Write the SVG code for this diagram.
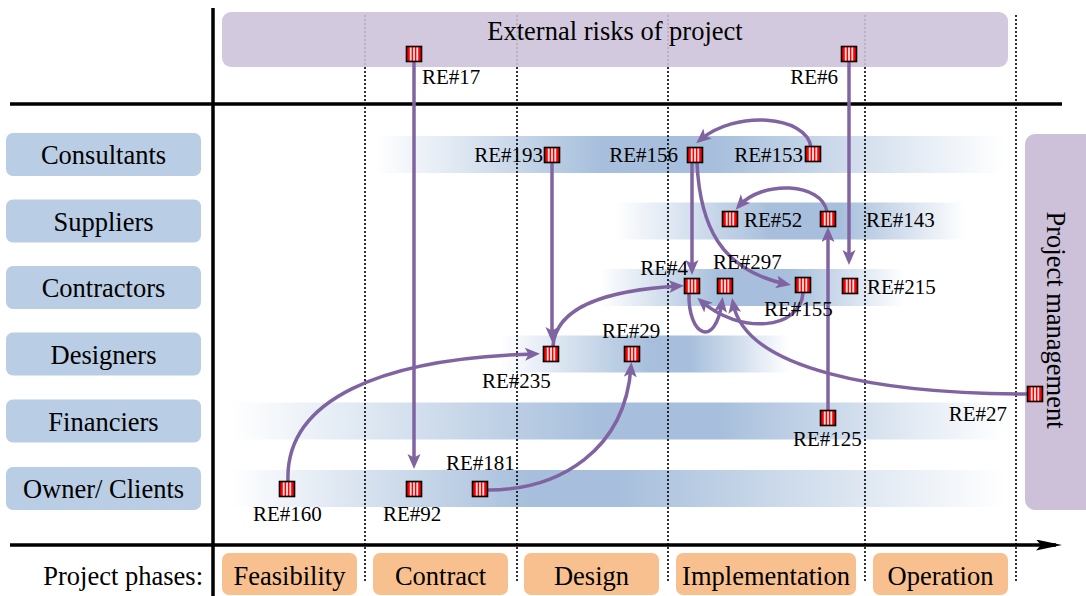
<svg xmlns="http://www.w3.org/2000/svg" width="1086" height="596" viewBox="0 0 1086 596" font-family="'Liberation Serif', 'DejaVu Serif', serif">
<style>
text{font-family:"Liberation Serif","DejaVu Serif",serif;fill:#000}
.big{font-size:26.5px}
.lbl{font-size:21px}
.mid{text-anchor:middle}
.end{text-anchor:end}
.axis{stroke:#000;stroke-width:3.5;fill:none}
.dot{stroke:#000;stroke-width:1.6;stroke-dasharray:2 2;fill:none}
.role{fill:#b9cde4}
.phase{fill:#f9c08f}
.conn{stroke:#8064a2;stroke-width:3.5;fill:none;marker-end:url(#ah)}
</style>
<defs>
<marker id="ah" markerUnits="userSpaceOnUse" markerWidth="17" markerHeight="14" refX="10" refY="6.5" orient="auto">
<path d="M0,0 L15,6.5 L0,13 L3.5,6.5 z" fill="#8064a2"/>
</marker>
<marker id="axh" markerUnits="userSpaceOnUse" markerWidth="28" markerHeight="12" refX="20" refY="5.5" orient="auto">
<path d="M0,0 L26,5.5 L0,11 L5,5.5 z" fill="#000"/>
</marker>
<g id="ic">
<rect x="-7.5" y="-7.5" width="15" height="15" fill="#f00" stroke="#000" stroke-width="1.6"/>
<rect x="-4.2" y="-6.5" width="1.8" height="13" fill="#fff" opacity="0.9"/>
<rect x="-0.9" y="-6.5" width="1.8" height="13" fill="#fff" opacity="0.9"/>
<rect x="2.4" y="-6.5" width="1.8" height="13" fill="#fff" opacity="0.9"/>
</g>
<linearGradient id="gC" gradientUnits="userSpaceOnUse" x1="375" y1="0" x2="1005" y2="0">
<stop offset="0" stop-color="#a7bfdc" stop-opacity="0"/><stop offset="0.357" stop-color="#a7bfdc"/><stop offset="0.54" stop-color="#a7bfdc"/><stop offset="1" stop-color="#a7bfdc" stop-opacity="0"/>
</linearGradient>
<linearGradient id="gS" gradientUnits="userSpaceOnUse" x1="615" y1="0" x2="965" y2="0">
<stop offset="0" stop-color="#a7bfdc" stop-opacity="0"/><stop offset="0.443" stop-color="#a7bfdc"/><stop offset="0.643" stop-color="#a7bfdc"/><stop offset="1" stop-color="#a7bfdc" stop-opacity="0"/>
</linearGradient>
<linearGradient id="gK" gradientUnits="userSpaceOnUse" x1="600" y1="0" x2="905" y2="0">
<stop offset="0" stop-color="#a7bfdc" stop-opacity="0"/><stop offset="0.393" stop-color="#a7bfdc"/><stop offset="0.623" stop-color="#a7bfdc"/><stop offset="1" stop-color="#a7bfdc" stop-opacity="0"/>
</linearGradient>
<linearGradient id="gD" gradientUnits="userSpaceOnUse" x1="500" y1="0" x2="790" y2="0">
<stop offset="0" stop-color="#a7bfdc" stop-opacity="0"/><stop offset="0.517" stop-color="#a7bfdc"/><stop offset="0.655" stop-color="#a7bfdc"/><stop offset="1" stop-color="#a7bfdc" stop-opacity="0"/>
</linearGradient>
<linearGradient id="gF" gradientUnits="userSpaceOnUse" x1="230" y1="0" x2="1005" y2="0">
<stop offset="0" stop-color="#a7bfdc" stop-opacity="0"/><stop offset="0.477" stop-color="#a7bfdc"/><stop offset="0.632" stop-color="#a7bfdc"/><stop offset="1" stop-color="#a7bfdc" stop-opacity="0"/>
</linearGradient>
<linearGradient id="gO" gradientUnits="userSpaceOnUse" x1="230" y1="0" x2="1005" y2="0">
<stop offset="0" stop-color="#a7bfdc" stop-opacity="0"/><stop offset="0.387" stop-color="#a7bfdc"/><stop offset="0.503" stop-color="#a7bfdc"/><stop offset="1" stop-color="#a7bfdc" stop-opacity="0"/>
</linearGradient>
</defs>

<g id="bands">
<rect x="375" y="136" width="630" height="37" fill="url(#gC)"/>
<rect x="615" y="202.5" width="350" height="37" fill="url(#gS)"/>
<rect x="600" y="269" width="305" height="37" fill="url(#gK)"/>
<rect x="500" y="335.5" width="290" height="37" fill="url(#gD)"/>
<rect x="230" y="402.5" width="775" height="37" fill="url(#gF)"/>
<rect x="230" y="470" width="775" height="37" fill="url(#gO)"/>
</g>

<g id="grid">
<line class="dot" x1="365" y1="15" x2="365" y2="582"/>
<line class="dot" x1="517" y1="15" x2="517" y2="582"/>
<line class="dot" x1="668" y1="15" x2="668" y2="582"/>
<line class="dot" x1="865" y1="15" x2="865" y2="582"/>
<line class="dot" x1="1016" y1="15" x2="1016" y2="582"/>
</g>

<g id="external-risks">
<rect x="222" y="12" width="786" height="55" rx="9" fill="#cdc1da" fill-opacity="0.88"/>
<text class="big mid" x="615" y="40">External risks of project</text>
</g>

<g id="project-management">
<rect x="1025" y="134" width="75" height="376" rx="10" fill="#cdc1da"/>
<text class="big mid" transform="translate(1055,320) rotate(90)" x="0" y="8.5">Project management</text>
</g>

<g id="axes">
<line class="axis" x1="213" y1="8" x2="213" y2="596"/>
<line class="axis" x1="10" y1="104" x2="1062" y2="104"/>
<line class="axis" x1="10" y1="545" x2="1056" y2="545" marker-end="url(#axh)"/>
</g>

<g id="role-consultants"><rect class="role" x="6" y="133" width="195" height="43" rx="7"/><text class="big mid" x="103.5" y="164">Consultants</text></g>
<g id="role-suppliers"><rect class="role" x="6" y="199.5" width="195" height="43" rx="7"/><text class="big mid" x="103.5" y="230.5">Suppliers</text></g>
<g id="role-contractors"><rect class="role" x="6" y="266" width="195" height="43" rx="7"/><text class="big mid" x="103.5" y="297">Contractors</text></g>
<g id="role-designers"><rect class="role" x="6" y="332.5" width="195" height="43" rx="7"/><text class="big mid" x="103.5" y="363.5">Designers</text></g>
<g id="role-financiers"><rect class="role" x="6" y="399.5" width="195" height="43" rx="7"/><text class="big mid" x="103.5" y="430.5">Financiers</text></g>
<g id="role-owner"><rect class="role" x="6" y="467" width="195" height="43" rx="7"/><text class="big mid" x="103.5" y="498">Owner/ Clients</text></g>

<g id="phases">
<text class="big end" x="203" y="585">Project phases:</text>
<g id="phase-feasibility"><rect class="phase" x="222" y="553" width="135" height="42" rx="7"/><text class="big mid" x="289.5" y="585">Feasibility</text></g>
<g id="phase-contract"><rect class="phase" x="373" y="553" width="135" height="42" rx="7"/><text class="big mid" x="440.5" y="585">Contract</text></g>
<g id="phase-design"><rect class="phase" x="524" y="553" width="135" height="42" rx="7"/><text class="big mid" x="591.5" y="585">Design</text></g>
<g id="phase-implementation"><rect class="phase" x="676" y="553" width="180" height="42" rx="7"/><text class="big mid" x="766" y="585">Implementation</text></g>
<g id="phase-operation"><rect class="phase" x="873" y="553" width="135" height="42" rx="7"/><text class="big mid" x="940.5" y="585">Operation</text></g>
</g>

<g id="connectors">
<path class="conn" d="M414,62 L414,464"/>
<path class="conn" d="M849,62 L849,260"/>
<path class="conn" d="M552,163 L552,337"/>
<path class="conn" d="M811,147 C806,115 735,110 700,140"/>
<path class="conn" d="M827,212 C822,182 762,180 739,206"/>
<path class="conn" d="M697,163 C700,225 720,270 786,284"/>
<path class="conn" d="M692,163 L692,270"/>
<path class="conn" d="M553,346 C556,305 610,290 679,286"/>
<path class="conn" d="M288,481 C285,400 380,358 535,354"/>
<path class="conn" d="M488,490 C560,490 625,450 631,367"/>
<path class="conn" d="M828,411 L828,232"/>
<path class="conn" d="M689,294 C688,335 715,350 722,302"/>
<path class="conn" d="M803,293 C800,330 740,335 701,301"/>
<path class="conn" d="M1028,394 C880,394 745,370 733,303"/>
</g>

<g id="risks">
<g id="re17"><use href="#ic" x="414" y="54"/><text class="lbl" x="422" y="84">RE#17</text></g>
<g id="re6"><use href="#ic" x="849" y="54"/><text class="lbl end" x="838" y="84">RE#6</text></g>
<g id="re193"><use href="#ic" x="552" y="155"/><text class="lbl end" x="543" y="162">RE#193</text></g>
<g id="re156"><use href="#ic" x="695" y="155"/><text class="lbl end" x="678" y="162">RE#156</text></g>
<g id="re153"><use href="#ic" x="813" y="154"/><text class="lbl end" x="803" y="162">RE#153</text></g>
<g id="re52"><use href="#ic" x="730" y="219"/><text class="lbl" x="744" y="227">RE#52</text></g>
<g id="re143"><use href="#ic" x="828" y="219"/><text class="lbl" x="866" y="227">RE#143</text></g>
<g id="re4"><use href="#ic" x="692" y="286"/><text class="lbl end" x="688" y="275">RE#4</text></g>
<g id="re297"><use href="#ic" x="725" y="286"/><text class="lbl" x="713" y="269">RE#297</text></g>
<g id="re155"><use href="#ic" x="803" y="285"/><text class="lbl" x="764" y="316">RE#155</text></g>
<g id="re215"><use href="#ic" x="850" y="286"/><text class="lbl" x="867" y="294">RE#215</text></g>
<g id="re235"><use href="#ic" x="551" y="354"/><text class="lbl" x="482" y="388">RE#235</text></g>
<g id="re29"><use href="#ic" x="632" y="354"/><text class="lbl" x="602" y="338">RE#29</text></g>
<g id="re125"><use href="#ic" x="828" y="418"/><text class="lbl" x="793" y="446">RE#125</text></g>
<g id="re27"><use href="#ic" x="1035" y="394"/><text class="lbl end" x="1007" y="421">RE#27</text></g>
<g id="re160"><use href="#ic" x="287" y="489"/><text class="lbl" x="253" y="521">RE#160</text></g>
<g id="re92"><use href="#ic" x="414" y="489"/><text class="lbl" x="383" y="521">RE#92</text></g>
<g id="re181"><use href="#ic" x="480" y="489"/><text class="lbl" x="446" y="470">RE#181</text></g>
</g>
</svg>
